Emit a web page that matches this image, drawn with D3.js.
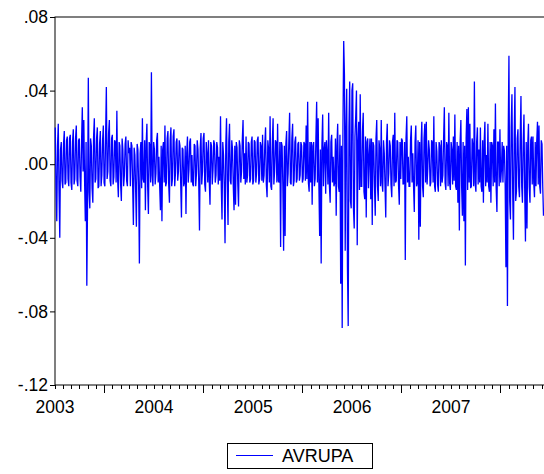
<!DOCTYPE html>
<html><head><meta charset="utf-8">
<script src="https://cdn.jsdelivr.net/npm/d3@7"></script>
<style>
html,body{margin:0;padding:0;background:#fff;}
svg{display:block;}
text{font-family:"Liberation Sans",Arial,sans-serif;fill:#000;}
</style></head>
<body>
<svg id="c" width="544" height="474"></svg>
<script>
// ---- data ----
const seriesName = "AVRUPA";
const firstDate = "2003-01-02";
const lastDate = "2007-12-08";
const avrupa = [
.020,-.012,-.031,.010,.022,-.014,-.040,.008,.012,-.009,-.013,.011,.018,-.011,-.010,.013,.015,-.008,-.012,.014,
.016,-.010,-.014,.012,.019,-.011,-.008,.014,.021,-.009,-.012,.013,.014,-.007,-.015,.012,.031,-.004,.024,-.008,
-.031,.012,-.066,-.020,.047,-.015,-.024,.014,.010,-.013,-.021,.015,.025,-.010,-.008,.014,.020,-.013,-.012,.011,
.018,-.012,-.006,.013,.021,-.010,-.012,.015,.042,-.008,-.004,.017,.024,-.009,-.012,.014,.016,-.011,-.007,.013,
.012,-.010,.029,-.008,-.018,.012,.010,-.011,-.020,.014,.008,-.012,-.006,.011,.015,-.009,-.012,.013,.006,.009,
-.012,.012,.010,-.011,-.033,.009,.005,-.014,-.034,.011,.008,-.012,-.054,.006,.012,-.013,.025,-.008,-.010,.013,
-.025,.011,.022,-.012,-.027,.012,.010,-.010,.050,-.006,-.012,.012,.008,-.011,-.005,.013,.017,-.010,.004,-.012,
-.025,.010,-.031,.008,.012,-.010,.021,-.012,-.010,.014,.018,-.011,-.021,.013,.020,-.012,-.008,.015,.019,-.012,
-.005,.012,.014,-.009,-.004,.013,.010,-.011,-.029,.009,.008,-.012,-.010,.010,-.027,.006,.015,-.010,-.003,.012,
.014,-.010,.005,-.011,-.012,.011,.010,-.012,-.005,.013,.008,-.010,-.036,.009,.017,-.011,-.004,.014,.017,-.011,
-.015,.012,.006,-.010,.013,-.009,-.022,.012,.010,-.011,-.003,.013,.011,-.010,-.006,.012,.009,-.011,.004,-.009,
.026,-.012,-.030,.012,.005,-.012,-.043,.010,.025,-.010,-.033,.012,.022,-.009,-.011,.013,.008,-.012,-.025,.010,
-.022,.012,.009,-.011,-.023,.013,.010,-.010,-.004,.013,.024,-.008,.006,-.011,.015,-.010,-.006,.012,.011,-.010,
-.008,.012,.015,-.011,-.009,.013,.012,-.010,-.005,.013,.015,-.011,-.008,.012,.010,-.009,.016,-.010,-.006,.011,
.020,-.011,-.018,.013,.008,-.010,.026,-.012,-.014,.012,.025,-.011,-.004,.013,.012,-.010,.022,-.009,-.010,.012,
-.045,.012,.010,-.012,-.047,.010,-.039,.011,.018,-.012,-.005,.013,.028,-.010,-.011,.014,.022,-.012,-.009,.012,
.015,-.010,-.008,.011,.012,-.009,-.006,.012,.010,-.010,-.008,.012,.011,-.009,.021,-.008,.034,-.010,-.015,.012,
-.010,.012,-.022,.010,.012,-.012,-.008,.014,.034,-.010,.025,-.012,-.039,.008,-.054,.010,.027,-.012,.008,.012,
-.016,.013,.006,-.011,.028,-.012,-.021,.012,.016,-.010,.004,-.012,-.010,.014,-.028,.010,.022,-.012,-.015,.016,
-.065,.010,-.089,.020,.067,.048,-.047,.020,.041,-.056,-.088,.020,.045,-.020,-.024,.040,.044,-.024,-.035,.015,
.026,.040,-.044,.012,.023,-.014,.038,-.012,-.012,.018,.028,-.015,-.019,.015,-.029,.012,.014,-.013,.005,.014,
-.019,.014,-.033,.012,.010,-.012,-.028,.014,.024,-.012,-.020,.013,.008,-.012,.024,-.010,-.015,.013,.006,-.012,
-.029,.012,.022,-.012,-.005,.013,.010,-.011,-.018,.012,.016,-.012,.028,-.010,-.009,.013,.012,-.011,-.022,.012,
-.008,.014,.013,-.011,-.010,.012,-.052,.014,.026,-.010,.004,-.012,-.012,.013,.021,-.010,.006,-.012,-.026,.012,
.021,-.012,-.010,.013,-.041,.012,-.034,.010,.023,-.012,-.018,.014,.022,-.010,.023,-.011,-.002,.013,.008,-.012,
-.010,.013,.012,-.010,.026,-.012,-.015,.012,.007,-.011,-.015,.012,.010,-.012,.013,-.010,-.006,.014,.031,-.010,
-.014,.012,.010,-.012,.028,-.010,-.014,.012,.008,-.011,.015,-.009,.027,-.012,-.014,.012,-.021,.010,-.036,.012,
.024,-.012,-.028,.012,-.031,.010,-.055,.014,.030,-.014,.031,-.010,.022,-.013,-.012,.014,.010,-.012,.045,-.010,
-.015,.012,.020,-.011,.008,-.010,.020,-.012,-.015,.013,-.021,.012,.023,-.012,.005,-.010,.022,-.012,-.015,.012,
-.021,.012,.010,-.012,.019,-.010,.033,-.013,-.026,.012,.012,-.012,.019,-.010,-.003,.012,-.010,.010,.007,-.012,
-.056,.010,-.077,.015,.059,-.020,-.030,.020,.038,-.015,-.041,.015,.042,-.020,-.015,.014,.019,-.012,-.018,.014,
.037,-.012,-.021,.012,.027,-.015,-.042,.012,-.035,.010,.022,-.012,-.021,.013,.015,-.011,.015,-.010,-.018,.012,
-.012,.012,.023,-.011,.021,-.012,-.016,.013,.011,-.012,-.028
];
const yTicks = [0.08, 0.04, 0.00, -0.04, -0.08, -0.12];
const yTickLabels = [".08", ".04", ".00", "-.04", "-.08", "-.12"];
const years = [2003, 2004, 2005, 2006, 2007];
const xStart = "2003-01-01", xEnd = "2008-01-01";

// ---- layout ----
const L = 55, R = 550, T = 17, B = 385;
const svg = d3.select("#c");
const parse = d3.utcParse("%Y-%m-%d");
const d0 = parse(firstDate), d1 = parse(lastDate);
const dates = avrupa.map((v, i) => new Date(+d0 + (d1 - d0) * i / (avrupa.length - 1)));

const x = d3.scaleUtc().domain([parse(xStart), parse(xEnd)]).range([L, R]);
const y = d3.scaleLinear().domain([-0.12, 0.08]).range([B, T]);

// frame
svg.append("rect").attr("x", L).attr("y", T).attr("width", R - L).attr("height", B - T)
  .attr("fill", "none").attr("stroke", "#000").attr("stroke-width", 1);

// series
svg.append("path")
  .datum(avrupa)
  .attr("fill", "none").attr("stroke", "#0000ff").attr("stroke-width", 1.3)
  .attr("stroke-linejoin", "miter")
  .attr("d", d3.line().x((d, i) => x(dates[i])).y(d => y(d)));

// y axis
const yAxis = d3.axisLeft(y).tickValues(yTicks).tickSize(5)
  .tickFormat((d, i) => yTickLabels[i]);
const gy = svg.append("g").attr("transform", `translate(${L},0)`).call(yAxis);
gy.select(".domain").remove();
gy.selectAll("text").attr("font-size", 17.5).attr("font-family", "Liberation Sans, Arial, sans-serif").attr("x", -7);
gy.selectAll("line").attr("stroke", "#000");

// x axis: monthly minor ticks, mid-year major ticks, year labels
const months = d3.utcMonth.range(parse(xStart), parse(xEnd));
const gx = svg.append("g").attr("transform", `translate(0,${B})`);
gx.selectAll("line.m").data(months).join("line")
  .attr("x1", d => Math.round(x(d)) + 0.5).attr("x2", d => Math.round(x(d)) + 0.5)
  .attr("y1", 0).attr("y2", d => d.getUTCMonth() === 6 ? 8 : 4)
  .attr("stroke", "#000");
gx.selectAll("text").data(years).join("text")
  .attr("x", d => x(parse(d + "-01-01")))
  .attr("y", 28).attr("text-anchor", "middle").attr("font-size", 17.5)
  .text(d => d);

// legend
const lg = svg.append("g");
lg.append("rect").attr("x", 227.5).attr("y", 443.5).attr("width", 145).attr("height", 25)
  .attr("fill", "#fff").attr("stroke", "#000");
lg.append("line").attr("x1", 236).attr("x2", 273).attr("y1", 455.5).attr("y2", 455.5)
  .attr("stroke", "#0000ff").attr("stroke-width", 1);
lg.append("text").attr("x", 282).attr("y", 462).attr("font-size", 18).text(seriesName);
</script>
</body></html>
